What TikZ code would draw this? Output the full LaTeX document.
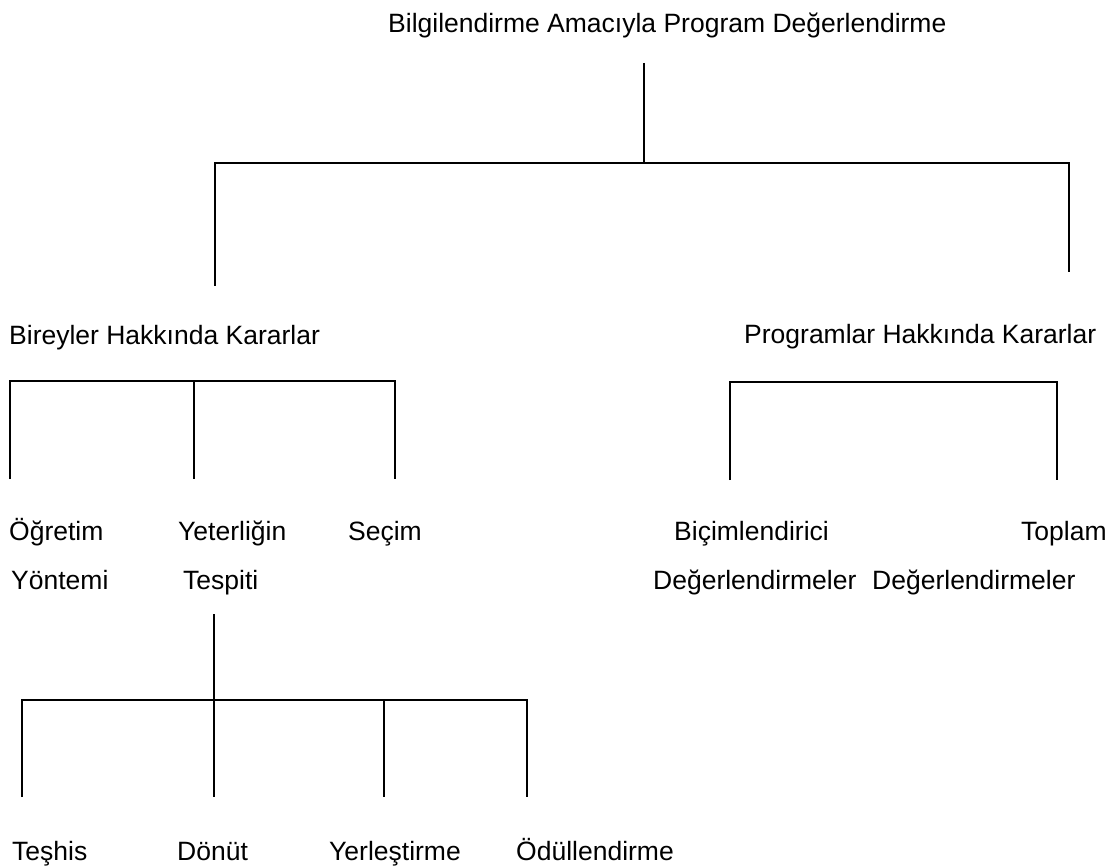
\documentclass[tikz,border=0pt]{standalone}
\usepackage{fontspec}
\setmainfont{Liberation Sans}
\usetikzlibrary{positioning}

\tikzset{
    lbl/.style={anchor=base west, inner sep=0pt, font=\fontsize{26.5}{32}\selectfont},
    branch/.style={line width=1.6pt}
}

\begin{document}
\begin{tikzpicture}[x=1pt, y=-1pt]
    \useasboundingbox (0,0) rectangle (1114,866);
    % Draw the labels
    \node[lbl] (top) at (388,33) {Bilgilendirme Amacıyla Program Değerlendirme};
    \node[lbl] (ind) at (9,345) {Bireyler Hakkında Kararlar};
    \node[lbl] (prg) at (744,344) {Programlar Hakkında Kararlar};
    \node[lbl] (ogr1) at (9,540) {Öğretim};
    \node[lbl] (ogr2) at (11,589) {Yöntemi};
    \node[lbl] (yet1) at (178,540) {Yeterliğin};
    \node[lbl] (yet2) at (183,589) {Tespiti};
    \node[lbl] (sec) at (348,540) {Seçim};
    \node[lbl] (bic1) at (674,540) {Biçimlendirici};
    \node[lbl] (bic2) at (653,589) {Değerlendirmeler};
    \node[lbl] (top1) at (1021,540) {Toplam};
    \node[lbl] (top2) at (872,589) {Değerlendirmeler};
    \node[lbl] (tes) at (12,860) {Teşhis};
    \node[lbl] (don) at (177,860) {Dönüt};
    \node[lbl] (yer) at (329,860) {Yerleştirme};
    \node[lbl] (odu) at (516,860) {Ödüllendirme};

    % Draw the first level
    \coordinate (r0) at (644,63);
    \coordinate (r1) at (644,163);
    \coordinate (ra) at (215,163);
    \coordinate (rb) at (215,286);
    \coordinate (rc) at (1069,163);
    \coordinate (rd) at (1069,272);
    \draw[branch] (r0) -- (r1);
    \draw[branch] (rb) -- (ra) -- (rc) -- (rd);

    % Draw the second level
    \foreach \x [count=\i] in {10,194,395} {
        \coordinate (ia\i) at (\x,381);
        \coordinate (ib\i) at (\x,479);
    }
    \draw[branch] (ib1) -- (ia1) -- (ia3) -- (ib3);
    \draw[branch] (ia2) -- (ib2);
    \coordinate (pa1) at (730,382);
    \coordinate (pb1) at (730,480);
    \coordinate (pa2) at (1057,382);
    \coordinate (pb2) at (1057,480);
    \draw[branch] (pb1) -- (pa1) -- (pa2) -- (pb2);

    % Draw the third level
    \coordinate (t0) at (214,614);
    \foreach \x [count=\i] in {22,214,384,527} {
        \coordinate (ta\i) at (\x,700);
        \coordinate (tb\i) at (\x,797);
    }
    \draw[branch] (t0) -- (ta2);
    \draw[branch] (tb1) -- (ta1) -- (ta4) -- (tb4);
    \foreach \i in {2,3} {
        \draw[branch] (ta\i) -- (tb\i);
    }
\end{tikzpicture}
\end{document}
